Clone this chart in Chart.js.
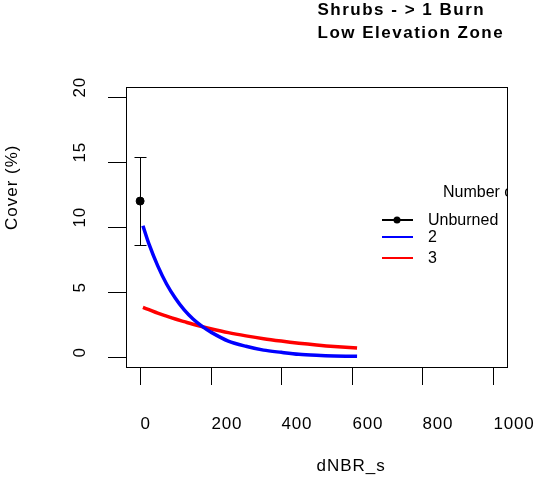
<!DOCTYPE html>
<html>
<head>
<meta charset="utf-8">
<script src="https://cdn.jsdelivr.net/npm/chart.js@4/dist/chart.umd.min.js"></script>
<style>
  html, body { margin: 0; padding: 0; background: #fff; }
  canvas { display: block; }
</style>
</head>
<body>
<canvas id="chart" width="533" height="503"></canvas>
<script>
// dNBR_s positions of the fitted curves
const burnX = [8, 25, 50, 75, 100, 125, 150, 175, 200, 250, 300, 350, 400, 450, 500, 550, 615];
// cover (%) for 2 burns (blue) and 3 burns (red)
const twoBurns = [10.1, 8.7, 7.0, 5.6, 4.5, 3.6, 2.9, 2.35, 1.9, 1.2, 0.8, 0.5, 0.33, 0.18, 0.1, 0.05, 0.02];
const threeBurns = [3.8, 3.62, 3.35, 3.12, 2.9, 2.7, 2.5, 2.32, 2.15, 1.85, 1.6, 1.38, 1.2, 1.04, 0.9, 0.78, 0.66];

// unburned mean with error bar
const unburnedX = [0];
const unburnedMean = [12];
const unburnedLow = [8.6];
const unburnedHigh = [15.4];

const xTicks = [0, 200, 400, 600, 800, 1000];
const yTicks = [0, 5, 10, 15, 20];
const legendLabels = ['Unburned', '2', '3'];
const legendColors = ['#000000', '#0000ff', '#ff0000'];

const FONT = '"Liberation Sans", Arial, sans-serif';

const rStyle = {
  id: 'rStyle',
  afterDatasetsDraw(chart) {
    const ctx = chart.ctx;
    const a = chart.chartArea;
    const xs = chart.scales.x;
    const ys = chart.scales.y;
    const midX = (a.left + a.right) / 2;
    const midY = (a.top + a.bottom) / 2;
    ctx.save();

    // box
    ctx.strokeStyle = '#000';
    ctx.lineWidth = 1;
    ctx.strokeRect(Math.round(a.left) + 0.5, Math.round(a.top) + 0.5,
      Math.round(a.right - a.left), Math.round(a.bottom - a.top));

    // error bar
    unburnedX.forEach((v, i) => {
      const px = Math.round(xs.getPixelForValue(v)) + 0.5;
      const lo = ys.getPixelForValue(unburnedLow[i]);
      const hi = ys.getPixelForValue(unburnedHigh[i]);
      ctx.beginPath();
      ctx.moveTo(px, lo); ctx.lineTo(px, hi);
      ctx.moveTo(px - 6, Math.round(lo) + 0.5); ctx.lineTo(px + 6, Math.round(lo) + 0.5);
      ctx.moveTo(px - 6, Math.round(hi) + 0.5); ctx.lineTo(px + 6, Math.round(hi) + 0.5);
      ctx.stroke();
    });

    // x ticks (labels start at the tick, as in the reference)
    ctx.fillStyle = '#000';
    ctx.font = '17px ' + FONT;
    ctx.letterSpacing = '0.8px';
    ctx.textAlign = 'left';
    ctx.textBaseline = 'middle';
    xTicks.forEach(v => {
      const px = Math.round(xs.getPixelForValue(v)) + 0.5;
      ctx.beginPath();
      ctx.moveTo(px, a.bottom); ctx.lineTo(px, a.bottom + 18);
      ctx.stroke();
      ctx.fillText(String(v), px, 424);
    });

    // y ticks, labels rotated
    yTicks.forEach(v => {
      const py = Math.round(ys.getPixelForValue(v)) + 0.5;
      ctx.beginPath();
      ctx.moveTo(a.left, py); ctx.lineTo(a.left - 18, py);
      ctx.stroke();
      ctx.save();
      ctx.translate(80, py);
      ctx.rotate(-Math.PI / 2);
      ctx.fillText(String(v), 0, 0);
      ctx.restore();
    });

    // axis titles
    ctx.letterSpacing = '1px';
    ctx.fillText('dNBR_s', midX, 466);
    ctx.save();
    ctx.translate(12, midY + 3);
    ctx.rotate(-Math.PI / 2);
    ctx.fillText('Cover (%)', 0, 0);
    ctx.restore();

    // main title
    ctx.font = 'bold 17px ' + FONT;
    ctx.letterSpacing = '1.5px';
    ctx.fillText('Shrubs - > 1 Burn', midX + 1, 10);
    ctx.fillText('Low Elevation Zone', midX + 1, 33);
    ctx.letterSpacing = '0px';

    // legend, clipped to the plot box like R
    ctx.beginPath();
    ctx.rect(a.left, a.top, a.right - a.left, a.bottom - a.top);
    ctx.clip();
    ctx.font = '16px ' + FONT;
    ctx.fillText('Number of Burns', 443, 193);
    const rowY = [220, 237, 258];
    legendLabels.forEach((lab, i) => {
      ctx.strokeStyle = legendColors[i];
      ctx.lineWidth = 2;
      ctx.beginPath();
      ctx.moveTo(382, rowY[i]); ctx.lineTo(413, rowY[i]);
      ctx.stroke();
      if (i === 0) {
        ctx.fillStyle = '#000';
        ctx.beginPath();
        ctx.arc(397, rowY[i], 3.5, 0, Math.PI * 2);
        ctx.fill();
      }
      ctx.fillStyle = '#000';
      ctx.fillText(lab, 428, rowY[i] + 1);
    });
    ctx.restore();
  }
};

const data = {
  datasets: [{
    label: 'Unburned',
    data: unburnedX.map((x, i) => ({ x: x, y: unburnedMean[i] })),
    backgroundColor: '#000',
    borderColor: '#000',
    pointRadius: 4,
    showLine: false
  },
  {
    label: '2',
    data: burnX.map((x, i) => ({ x: x, y: twoBurns[i] })),
    borderColor: '#0000ff',
    borderWidth: 3.5,
    pointRadius: 0,
    showLine: true,
    tension: 0.3
  },
  {
    label: '3',
    data: burnX.map((x, i) => ({ x: x, y: threeBurns[i] })),
    borderColor: '#ff0000',
    borderWidth: 3.5,
    pointRadius: 0,
    showLine: true,
    tension: 0.3
  }]
};

const config = {
  type: 'scatter',
  data: data,
  options: {
    responsive: false,
    animation: false,
    layout: {
      padding: { left: 126, top: 87, right: 26, bottom: 136 }
    },
    scales: {
      x: { type: 'linear', min: -40, max: 1040, display: false },
      y: { type: 'linear', min: -0.8, max: 20.8, display: false }
    },
    plugins: {
      legend: { display: false },
      title: { display: false },
      tooltip: { enabled: false }
    }
  },
  plugins: [rStyle]
};

new Chart(document.getElementById('chart'), config);
</script>
</body>
</html>
